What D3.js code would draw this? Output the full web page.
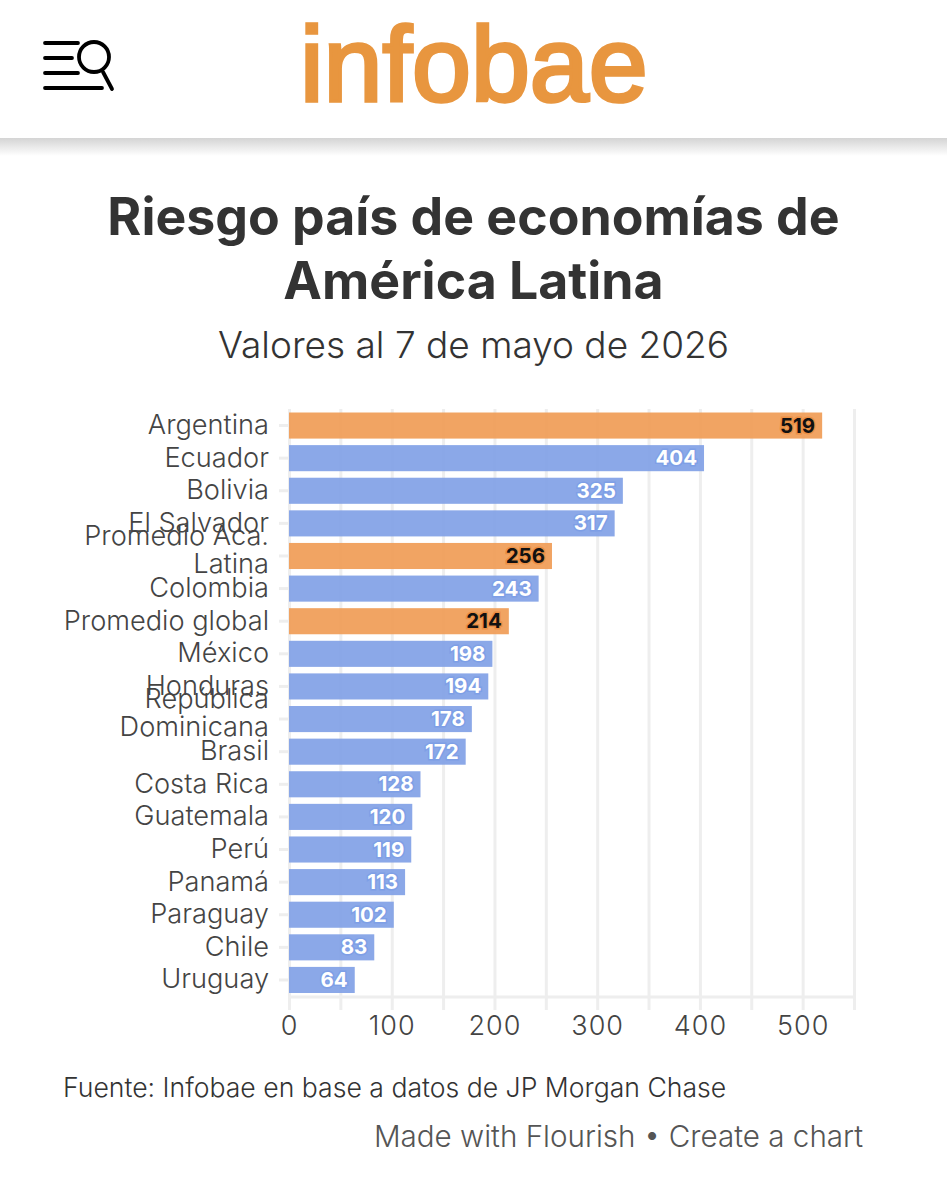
<!DOCTYPE html>
<html>
  <head>
    <meta charset="utf-8"/>
    <title>Riesgo país</title>
    <style>
      html, body { margin: 0; padding: 0; background: #fff; }
      svg { display: block; }
      text { font-family: "Inter", sans-serif; }
      .axis path { display: none; }
      .tick line { stroke: #eeeeee; stroke-width: 3px; }
    </style>
    <script src="https://d3js.org/d3.v7.min.js"></script>
  </head>
  <body>
    <svg id="chart" width="947" height="1200"></svg>

    <script>
      var categories = [
        "Argentina", "Ecuador", "Bolivia", "El Salvador", "Promedio Aca.\nLatina",
        "Colombia", "Promedio global", "México", "Honduras", "República\nDominicana",
        "Brasil", "Costa Rica", "Guatemala", "Perú", "Panamá", "Paraguay", "Chile", "Uruguay"
      ];
      var values = [519, 404, 325, 317, 256, 243, 214, 198, 194, 178, 172, 128, 120, 119, 113, 102, 83, 64];
      var highlighted = ["Argentina", "Promedio Aca.\nLatina", "Promedio global"];
      var xTicks = [0, 50, 100, 150, 200, 250, 300, 350, 400, 450, 500, 550];
      var titleLines = ["Riesgo país de economías de", "América Latina"];
      var subtitle = "Valores al 7 de mayo de 2026";
      var source = "Fuente: Infobae en base a datos de JP Morgan Chase";
      var credit = "Made with Flourish • Create a chart";

      var svg = d3.select("#chart");

      // header
      var grad = svg.append("defs").append("linearGradient")
        .attr("id", "shadow").attr("x1", 0).attr("x2", 0).attr("y1", 0).attr("y2", 1);
      grad.append("stop").attr("offset", 0).attr("stop-color", "#d4d4d4");
      grad.append("stop").attr("offset", 1).attr("stop-color", "#ffffff");
      svg.append("rect").attr("x", 0).attr("y", 138).attr("width", 947).attr("height", 18)
        .attr("fill", "url(#shadow)");

      svg.append("text")
        .attr("x", 300).attr("y", 101)
        .attr("font-size", 106)
        .attr("fill", "#e8963f")
        .attr("stroke", "#e8963f")
        .attr("stroke-width", 3.5)
        .style("font-family", "'Liberation Sans'")
        .text("infobae");

      var icon = svg.append("g").attr("fill", "none").attr("stroke", "#000")
        .attr("stroke-width", 3.8).attr("stroke-linecap", "round");
      [[45, 78, 43], [45, 72, 58], [45, 78, 73], [45, 102, 88]].forEach(function(l) {
        icon.append("line").attr("x1", l[0]).attr("x2", l[1]).attr("y1", l[2]).attr("y2", l[2]);
      });
      icon.append("circle").attr("cx", 94).attr("cy", 57).attr("r", 15);
      icon.append("line").attr("x1", 103).attr("y1", 72).attr("x2", 112).attr("y2", 89);

      // titles
      svg.selectAll(".title").data(titleLines).enter().append("text")
        .attr("class", "title")
        .attr("x", 473.5)
        .attr("y", function(d, i) { return 235 + i * 64; })
        .attr("text-anchor", "middle")
        .attr("font-size", 51.8)
        .attr("font-weight", 700)
        .attr("fill", "#333")
        .text(function(d) { return d; });

      svg.append("text")
        .attr("x", 473.5).attr("y", 358)
        .attr("text-anchor", "middle")
        .attr("font-size", 37)
        .attr("font-weight", 300)
        .attr("fill", "#333")
        .text(subtitle);

      // chart
      var x = d3.scaleLinear().domain([0, 550]).range([289, 854]);
      var y = d3.scaleBand().domain(categories).range([412.5, 993]).paddingInner(0.2).paddingOuter(0);

      var xAxis = d3.axisBottom(x)
        .tickValues(xTicks)
        .tickSize(-588)
        .tickPadding(0)
        .tickFormat(function(d) { return d % 100 === 0 ? d : ""; });

      var xG = svg.append("g").attr("class", "axis").attr("transform", "translate(0,997)").call(xAxis);
      xG.selectAll(".tick line").attr("y1", 13);
      xG.selectAll("text")
        .attr("y", 38)
        .attr("dy", 0)
        .attr("font-size", 27)
        .attr("font-weight", 300)
        .attr("letter-spacing", 1)
        .attr("fill", "#444")
        .style("font-family", "'Inter'");

      svg.append("line")
        .attr("x1", 289).attr("x2", 854).attr("y1", 997).attr("y2", 997)
        .attr("stroke", "#eeeeee").attr("stroke-width", 3);

      var yAxis = d3.axisLeft(y).tickSize(10).tickPadding(0).tickFormat("");
      svg.append("g").attr("class", "axis").attr("transform", "translate(289,0)").call(yAxis);

      svg.selectAll(".cat").data(categories).enter().append("text")
        .attr("class", "cat")
        .attr("text-anchor", "end")
        .attr("font-size", 27.2)
        .attr("font-weight", 300)
        .attr("fill", "#444")
        .each(function(d) {
          var lines = d.split("\n");
          var mid = y(d) + y.bandwidth() / 2;
          var el = d3.select(this);
          var shift = lines.length > 1 ? 3 : 8.5;
          lines.forEach(function(line, i) {
            el.append("tspan")
              .attr("x", 269)
              .attr("y", mid + shift + (i - (lines.length - 1) / 2) * 28.5)
              .text(line);
          });
        });

      svg.selectAll(".bar").data(categories).enter().append("rect")
        .attr("class", "bar")
        .attr("x", x(0))
        .attr("y", function(d) { return y(d); })
        .attr("width", function(d, i) { return x(values[i]) - x(0); })
        .attr("height", y.bandwidth())
        .attr("fill", function(d) { return highlighted.indexOf(d) >= 0 ? "#f09a52" : "#7e9fe6"; })
        .attr("fill-opacity", 0.9);

      svg.selectAll(".val").data(categories).enter().append("text")
        .attr("class", "val")
        .attr("x", function(d, i) { return x(values[i]) - 7; })
        .attr("y", function(d) { return y(d) + y.bandwidth() / 2 + 7; })
        .attr("text-anchor", "end")
        .attr("font-size", 20.5)
        .attr("font-weight", 700)
        .attr("fill", function(d) { return highlighted.indexOf(d) >= 0 ? "#111" : "#fff"; })
        .attr("stroke", function(d) { return highlighted.indexOf(d) >= 0 ? "#ec9045" : "#7e9fe6"; })
        .attr("stroke-width", 3)
        .style("paint-order", "stroke")
        .text(function(d, i) { return values[i]; });

      // footer
      svg.append("text")
        .attr("x", 63).attr("y", 1097)
        .attr("font-size", 26.6)
        .attr("font-weight", 300)
        .attr("fill", "#333")
        .text(source);

      svg.append("text")
        .attr("x", 863).attr("y", 1147)
        .attr("text-anchor", "end")
        .attr("font-size", 29.6)
        .attr("font-weight", 300)
        .attr("fill", "#555")
        .text(credit);
    </script>
  </body>
</html>
